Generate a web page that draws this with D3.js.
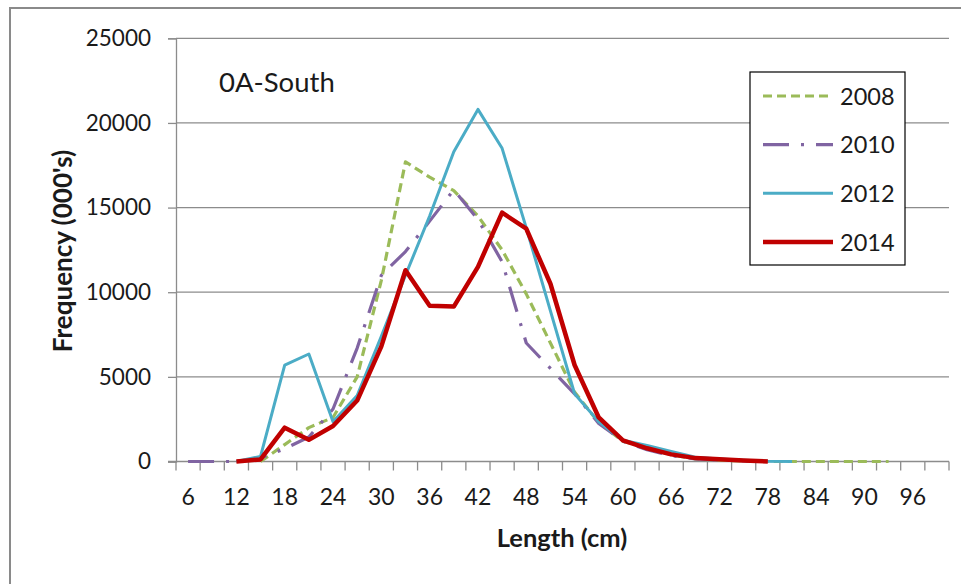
<!DOCTYPE html>
<html>
<head>
<meta charset="utf-8">
<script src="https://cdn.jsdelivr.net/npm/d3@7"></script>
<style>
  body { margin: 0; background: #fff; }
  text { font-family: Lato, "Noto Sans", sans-serif; fill: #1a1a1a; }
</style>
</head>
<body>
<div id="chart"></div>
<script>
// length classes (cm), every 3 cm
var lengths = [6, 9, 12, 15, 18, 21, 24, 27, 30, 33, 36, 39, 42, 45, 48, 51,
               54, 57, 60, 63, 66, 69, 72, 75, 78, 81, 84, 87, 90, 93, 96, 99];
var xLabels = [6, 12, 18, 24, 30, 36, 42, 48, 54, 60, 66, 72, 78, 84, 90, 96];
var yTicks = [0, 5000, 10000, 15000, 20000, 25000];
var years = ["2008", "2010", "2012", "2014"];

// frequency (000's), null = no value
var f2008 = [null, null, null, 0, 1000, 2000, 2600, 5000, 10700, 17700, 16800, 16000,
             14500, 12500, 9900, 7000, 4100, 2300, 1200, 800, 400, 150, 80, 30,
             0, 0, 0, 0, 0, 0, null, null];
var f2010 = [0, 0, 0, 200, 750, 1450, 3100, 6700, 11000, 12400, 14200, 16050,
             14300, 11800, 7000, 5500, 4000, 2250, 1200, 700, 350, 150, 80, 30,
             0, null, null, null, null, null, null, null];
var f2012 = [null, null, 0, 300, 5700, 6350, 2350, 3900, 7400, 11000, 14500, 18300,
             20800, 18500, 13800, 8900, 4000, 2350, 1250, 950, 600, 250, 150, 80,
             20, 0, null, null, null, null, null, null];
var f2014 = [null, null, 0, 120, 2000, 1280, 2100, 3600, 6800, 11300, 9200, 9150,
             11500, 14700, 13750, 10500, 5700, 2600, 1250, 780, 420, 200, 130, 60,
             0, null, null, null, null, null, null, null];

var series = [
  { name: years[0], values: f2008, color: "#9bbb59", width: 3.2, dash: "9,5" },
  { name: years[1], values: f2010, color: "#8064a2", width: 3.2, dash: "26,12,3,12" },
  { name: years[2], values: f2012, color: "#4bacc6", width: 3, dash: null },
  { name: years[3], values: f2014, color: "#c00000", width: 4.5, dash: null }
];

var W = 961, H = 584;
var plot = { left: 176, right: 949, top: 38.3, bottom: 461.5 };

var svg = d3.select("#chart").append("svg")
    .attr("width", W)
    .attr("height", H);

// outer chart frame
svg.append("rect")
    .attr("x", 10).attr("y", 8)
    .attr("width", 1000).attr("height", 700)
    .attr("fill", "none")
    .attr("stroke", "#8a8a8a")
    .attr("stroke-width", 2);

var x = d3.scaleBand()
    .domain(lengths)
    .range([plot.left, plot.right]);

var y = d3.scaleLinear()
    .domain([0, 25000])
    .range([plot.bottom, plot.top]);

// gridlines
svg.append("g")
  .selectAll("line")
  .data(yTicks.slice(1))
  .join("line")
    .attr("x1", plot.left).attr("x2", plot.right)
    .attr("y1", function(d) { return y(d); })
    .attr("y2", function(d) { return y(d); })
    .attr("stroke", "#8c8c8c")
    .attr("stroke-width", 1.3);

// y axis
var yAxis = svg.append("g")
    .attr("transform", "translate(" + plot.left + ",0)")
    .call(d3.axisLeft(y).tickValues(yTicks).tickSize(8).tickPadding(17).tickFormat(d3.format("d")));
yAxis.selectAll("line, path").attr("stroke", "#8c8c8c").attr("stroke-width", 1.3);
yAxis.selectAll("text")
    .attr("font-size", 22.5)
    .attr("font-family", "Lato, sans-serif")
    .attr("fill", "#1a1a1a");

// x axis: tick marks on band edges, labels on every other band
var xAxis = svg.append("g")
    .attr("transform", "translate(0," + plot.bottom + ")");
xAxis.append("line")
    .attr("x1", plot.left - 8).attr("x2", plot.right)
    .attr("stroke", "#8c8c8c").attr("stroke-width", 1.3);
xAxis.selectAll(".tk")
  .data(lengths.concat([null]))
  .join("line")
    .attr("class", "tk")
    .attr("x1", function(d, i) { return plot.left + i * x.step(); })
    .attr("x2", function(d, i) { return plot.left + i * x.step(); })
    .attr("y1", 0).attr("y2", 9)
    .attr("stroke", "#8c8c8c").attr("stroke-width", 1.3);
xAxis.selectAll(".lb")
  .data(xLabels)
  .join("text")
    .attr("class", "lb")
    .attr("x", function(d) { return x(d) + x.bandwidth() / 2; })
    .attr("y", 43)
    .attr("text-anchor", "middle")
    .attr("font-size", 23)
    .text(function(d) { return d; });

// axis titles
svg.append("text")
    .attr("x", 562).attr("y", 547)
    .attr("text-anchor", "middle")
    .attr("font-size", 25.5)
    .attr("font-weight", "bold")
    .text("Length (cm)");

svg.append("text")
    .attr("transform", "translate(72,251) rotate(-90)")
    .attr("text-anchor", "middle")
    .attr("font-size", 26)
    .attr("font-weight", "bold")
    .text("Frequency (000's)");

// region label
svg.append("text")
    .attr("x", 219).attr("y", 92)
    .attr("font-size", 27.5)
    .text("0A-South");

// lines
var line = d3.line()
    .defined(function(d) { return d.v != null; })
    .x(function(d) { return x(d.len) + x.bandwidth() / 2; })
    .y(function(d) { return y(d.v); });

svg.append("g")
  .selectAll("path")
  .data(series)
  .join("path")
    .attr("fill", "none")
    .attr("stroke", function(d) { return d.color; })
    .attr("stroke-width", function(d) { return d.width; })
    .attr("stroke-dasharray", function(d) { return d.dash; })
    .attr("stroke-linejoin", "round")
    .attr("d", function(d) {
      return line(d.values.map(function(v, i) { return { len: lengths[i], v: v }; }));
    });

// legend
var legend = svg.append("g");
legend.append("rect")
    .attr("x", 750).attr("y", 72)
    .attr("width", 155).attr("height", 193)
    .attr("fill", "#fff")
    .attr("stroke", "#000")
    .attr("stroke-width", 1.2);

var rowY = d3.scalePoint().domain(years).range([96, 242]);
var item = legend.selectAll(".item")
  .data(series)
  .join("g")
    .attr("class", "item")
    .attr("transform", function(d) { return "translate(0," + rowY(d.name) + ")"; });
item.append("line")
    .attr("x1", 763).attr("x2", 833)
    .attr("stroke", function(d) { return d.color; })
    .attr("stroke-width", function(d) { return d.width; })
    .attr("stroke-dasharray", function(d) { return d.dash; });
item.append("text")
    .attr("x", 840).attr("y", 8.5)
    .attr("font-size", 23.5)
    .text(function(d) { return d.name; });
</script>
</body>
</html>
